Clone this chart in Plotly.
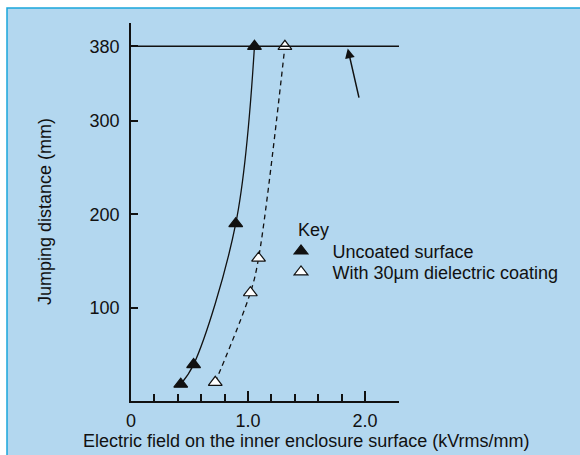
import plotly.graph_objects as go

# Jumping distance vs. electric field on the inner enclosure surface
uncoated_field = [0.425, 0.535, 0.895, 1.055]
uncoated_dist = [18, 39, 190, 380]

coated_field = [0.72, 1.02, 1.09, 1.315]
coated_dist = [20, 116, 153, 380]

limit_dist = 380                     # horizontal reference line
arrow_tail = (1.951, 323.5)
arrow_head = (1.852, 377.7)

y_ticks = [100, 200, 300, 380]
x_major = [0, 1, 2]
x_major_text = ["0", "1.0", "2.0"]
x_minor = [0.2, 0.4, 0.6, 0.8, 1.2, 1.4, 1.6, 1.8]

x_range = [0, 2.29]
y_range = [0, 405]

FONT = "Liberation Sans, Arial, sans-serif"
INK = "#111111"
BG = "#B3D7EF"

# plot-area geometry in pixels (for placing paper-referenced items)
L, T, W, H = 131, 23, 268, 378.5


def px_x(px):
    return (px - L) / W


def px_y(py):
    return (T + H - py) / H


fig = go.Figure()

# fitted curves
fig.add_trace(go.Scatter(x=uncoated_field, y=uncoated_dist, mode="lines",
                         line=dict(color=INK, width=1.3, shape="spline", smoothing=1.0),
                         showlegend=False, hoverinfo="skip"))
fig.add_trace(go.Scatter(x=coated_field, y=coated_dist, mode="lines",
                         line=dict(color=INK, width=1.3, dash="5px,4px", shape="spline", smoothing=1.0),
                         showlegend=False, hoverinfo="skip"))

# measured points (each in its own legend box so rows can be spaced freely)
fig.add_trace(go.Scatter(x=uncoated_field, y=uncoated_dist, mode="markers",
                         name="Uncoated surface", legend="legend",
                         marker=dict(symbol="triangle-up", size=12, color=INK,
                                     line=dict(color=INK, width=1.2))))
fig.add_trace(go.Scatter(x=coated_field, y=coated_dist, mode="markers",
                         name="With 30\u00b5m dielectric coating", legend="legend2",
                         marker=dict(symbol="triangle-up", size=12, color="white",
                                     line=dict(color=INK, width=1.2))))

# 380 mm line
fig.add_shape(type="line", xref="x", yref="y", x0=x_range[0], x1=x_range[1],
              y0=limit_dist, y1=limit_dist, line=dict(color=INK, width=1.5))

# background panel with a cyan edge on top and left
fig.add_shape(type="rect", xref="paper", yref="paper", layer="below",
              x0=px_x(7), x1=1.75, y0=-0.2, y1=px_y(8),
              fillcolor=BG, line=dict(color="#1AA6DC", width=1.5))

fig.add_annotation(x=arrow_head[0], y=arrow_head[1], ax=arrow_tail[0], ay=arrow_tail[1],
                   xref="x", yref="y", axref="x", ayref="y", text="",
                   showarrow=True, arrowhead=2, arrowsize=1.3, arrowwidth=1.5,
                   arrowcolor=INK)

# axis titles and key heading
fig.add_annotation(text="Electric field on the inner enclosure surface (kVrms/mm)",
                   xref="paper", yref="paper", x=px_x(306), y=px_y(442),
                   xanchor="center", yanchor="middle", showarrow=False,
                   font=dict(family=FONT, size=18, color=INK))
fig.add_annotation(text="Jumping distance (mm)", textangle=-90,
                   xref="paper", yref="paper", x=px_x(45), y=0.5,
                   xanchor="center", yanchor="middle", showarrow=False,
                   font=dict(family=FONT, size=18, color=INK))
fig.add_annotation(text="Key", xref="paper", yref="paper",
                   x=px_x(296), y=px_y(230),
                   xanchor="left", yanchor="middle", showarrow=False,
                   font=dict(family=FONT, size=18, color=INK))

legend_style = dict(xanchor="left", yanchor="middle", bgcolor="rgba(0,0,0,0)",
                    borderwidth=0, itemwidth=53,
                    font=dict(family=FONT, size=18, color=INK))

fig.update_layout(
    width=580, height=455,
    margin=dict(l=L, r=580 - L - W, t=T, b=455 - T - H),
    paper_bgcolor="white", plot_bgcolor="rgba(0,0,0,0)",
    font=dict(family=FONT, size=18, color=INK),
    showlegend=True,
    legend=dict(x=px_x(269.5), y=px_y(251.5), **legend_style),
    legend2=dict(x=px_x(269.5), y=px_y(272.5), **legend_style),
    xaxis=dict(range=x_range, showgrid=False, zeroline=False,
               showline=True, linecolor=INK, linewidth=1.5,
               tickvals=x_major, ticktext=x_major_text,
               ticks="inside", ticklen=10, tickwidth=1.5, tickcolor=INK,
               ticklabelstandoff=3,
               minor=dict(tickvals=x_minor, ticks="inside", ticklen=7,
                          tickwidth=1.5, tickcolor=INK, showgrid=False)),
    yaxis=dict(range=y_range, showgrid=False, zeroline=False,
               showline=True, linecolor=INK, linewidth=1.5,
               tickvals=y_ticks, ticks="inside", ticklen=7,
               tickwidth=1.5, tickcolor=INK, ticklabelstandoff=6),
)

fig.write_html("out.html")
